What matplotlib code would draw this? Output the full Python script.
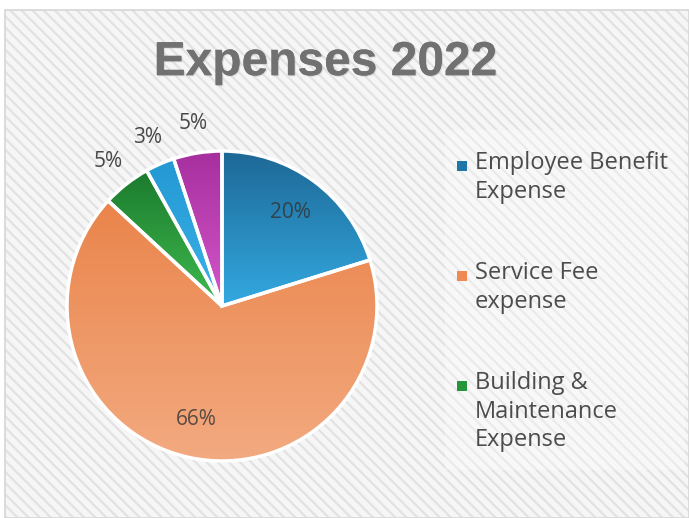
import numpy as np
import matplotlib.pyplot as plt
from matplotlib.patches import Rectangle
from matplotlib.colors import to_rgb
import matplotlib.patheffects as pe

plt.rcParams['font.family'] = ['Open Sans', 'DejaVu Sans']
plt.rcParams['hatch.linewidth'] = 1.6

# gider kalemleri (yuzde)
kalemler = ["Employee Benefit\nExpense", "Service Fee\nexpense",
            "Building &\nMaintenance\nExpense"]
yuzdeler = [20, 66, 5, 3, 5]

# her dilim icin ust / alt renk (gradyan)
ust_renk = ["#1d6896", "#ea844b", "#1b7a2d", "#2398d2", "#a62f9e"]
alt_renk = ["#33a9e0", "#f3aa80", "#3fbb4f", "#3cb2ea", "#d457cb"]
legend_renk = ["#1f77a8", "#ee8a52", "#25963b"]

W, H = 689, 518
fig = plt.figure(figsize=(W / 100, H / 100), dpi=100)
fig.patch.set_facecolor("white")

# arka plan: capraz cizgili gri alan
fig.patches.append(Rectangle((0.007, 0), 0.993, 0.981, transform=fig.transFigure,
                             facecolor="#f6f6f6", edgecolor="#e2e2e2",
                             hatch="\\\\\\", linewidth=0, zorder=-2))
fig.patches.append(Rectangle((0.007, 0), 0.993, 0.981, transform=fig.transFigure,
                             facecolor="none", edgecolor="#d6d6d6",
                             linewidth=1.2, zorder=-1))

fig.text(0.472, 0.879, "Expenses 2022", ha="center", va="center",
         fontsize=34.5, fontweight="bold", color="#717171",
         family=["Liberation Sans", "DejaVu Sans"],
         path_effects=[pe.withSimplePatchShadow(offset=(0.8, -0.8), shadow_rgbFace="#b0b0b0", alpha=0.4),
                       pe.Normal()])

ax = fig.add_axes([(222 - 155) / W, (H - 306 - 155) / H, 310 / W, 310 / H])
ax.set_zorder(2)
ax.axis("off")

wedges, _ = ax.pie(
    yuzdeler, startangle=90, counterclock=False, radius=1,
    wedgeprops=dict(edgecolor="white", linewidth=2.5, facecolor="none"))

# dilimleri gradyan ile boya
for w, c1, c2 in zip(wedges, ust_renk, alt_renk):
    ext = w.get_path().get_extents()
    t = np.linspace(0, 1, 256)[:, None, None]
    img = np.array(to_rgb(c1)) * (1 - t) + np.array(to_rgb(c2)) * t
    img = np.repeat(img, 2, axis=1)
    im = ax.imshow(img, extent=(ext.x0, ext.x1, ext.y0, ext.y1), origin="upper",
                   aspect="auto", zorder=1, interpolation="bilinear")
    im.set_clip_path(w)
    w.set_zorder(2)

ax.set_xlim(-1, 1)
ax.set_ylim(-1, 1)

# yuzde etiketleri: buyuk dilimler icerde, kucukler disarda
for w, v in zip(wedges, yuzdeler):
    aci = np.deg2rad((w.theta1 + w.theta2) / 2)
    if v >= 10:
        r, renk = 0.75, "#333333"
    else:
        r, renk = 1.19, "#484848"
    ax.text(r * np.cos(aci), r * np.sin(aci), f"{v}%", ha="center", va="center",
            fontsize=15, color=renk, alpha=0.8 if v >= 10 else 1, zorder=5)

# lejant: ilk uc kalem
fig.patches.append(Rectangle((445 / W, 1 - 470 / H), 240 / W, 340 / H,
                             transform=fig.transFigure, facecolor="white",
                             alpha=0.3, linewidth=0, zorder=0))
for i, (etiket, renk) in enumerate(zip(kalemler, legend_renk)):
    y = 166 + i * 110
    fig.patches.append(Rectangle((457 / W, 1 - (y + 5) / H), 10 / W, 10 / H,
                                 transform=fig.transFigure, facecolor=renk,
                                 linewidth=0, zorder=1))
    fig.text(475 / W, 1 - (y - 15) / H, etiket, ha="left", va="top",
             fontsize=17, color="#4c4c4c", linespacing=1.25)

fig.savefig("out.png", dpi=100)
